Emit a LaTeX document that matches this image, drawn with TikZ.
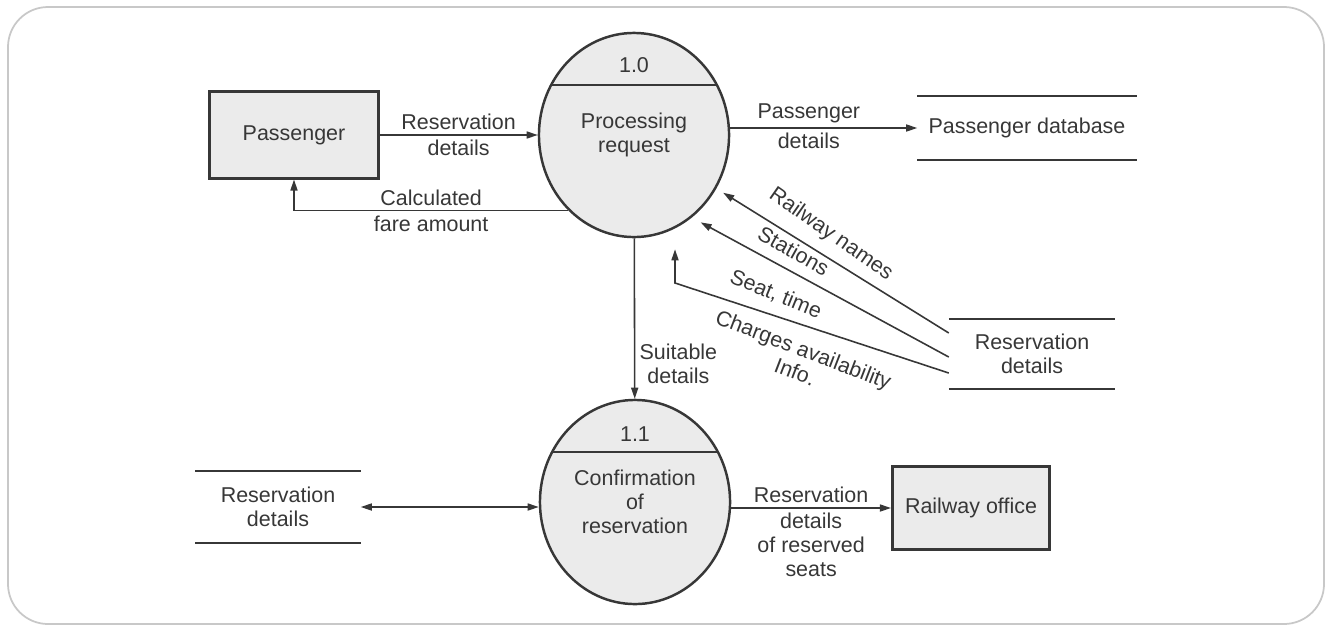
\documentclass[tikz,border=0pt]{standalone}
\usepackage{fontspec}
\setmainfont{Liberation Sans}
\usetikzlibrary{positioning}
\usetikzlibrary{calc}
\usetikzlibrary{arrows.meta}
\usetikzlibrary{shapes.geometric}
\definecolor{ink}{RGB}{55,55,55}
\definecolor{shade}{RGB}{235,235,235}
\definecolor{framegray}{RGB}{200,200,200}

\begin{document}
\begin{tikzpicture}[x=0.01cm, y=-0.01cm,
    font=\fontsize{6.1}{6.8}\selectfont, text=ink,
    entity/.style={draw=ink, line width=0.85pt, fill=shade, inner sep=0pt},
    process/.style={ellipse, draw=ink, line width=0.7pt, fill=shade, inner sep=0pt,
        minimum width=1.9cm, minimum height=2.04cm, align=center,
        path picture={\draw[ink, line width=0.4pt] ([yshift=0.5cm]path picture bounding box.west) -- ([yshift=0.5cm]path picture bounding box.east);}},
    storeline/.style={draw=ink, line width=0.45pt},
    store/.style={inner sep=0pt, align=center,
        append after command={(\tikzlastnode.north west) edge[storeline] (\tikzlastnode.north east)
                              (\tikzlastnode.south west) edge[storeline] (\tikzlastnode.south east)}},
    flow/.style={draw=ink, line width=0.45pt, -{Triangle[length=0.11cm, width=0.07cm]}},
    biflow/.style={flow, {Triangle[length=0.11cm, width=0.07cm]}-{Triangle[length=0.11cm, width=0.07cm]}},
    lbl/.style={inner sep=1.2pt, align=center},
    slant/.style={inner sep=3pt, align=center}]

    \useasboundingbox (0,0) rectangle (1328,630);
    \draw[framegray, line width=0.5pt, rounded corners=0.4cm] (8,7) rectangle (1324,624);

    \node[entity, minimum width=1.68cm, minimum height=0.86cm] (pass) at (294,135) {Passenger};
    \node[process] (p1) at (634,135) {Processing\\request};
    \node (p1num) at (634,65) {1.0};
    \node[store, minimum width=2.18cm, minimum height=0.63cm] (pdb) at (1027,128) {Passenger database};
    \node[store, minimum width=1.65cm, minimum height=0.68cm] (rdb) at (1032,354) {Reservation\\details};

    \node[process] (p2) at (635,502) {Confirmation\\of\\reservation};
    \node (p2num) at (635,434) {1.1};
    \node[store, minimum width=1.64cm, minimum height=0.71cm] (lstore) at (278,507) {Reservation\\details};
    \node[entity, minimum width=1.57cm, minimum height=0.82cm] (office) at (971,508) {Railway office};

    \draw[flow] (pass) -- node[lbl, above] {Reservation} node[lbl, below] {details} (p1);
    \draw[flow] (p1.229) -| node[lbl, pos=0.25, above] {Calculated} node[lbl, pos=0.25, below] {fare amount} (pass);
    \draw[flow] (p1.east |- pdb.west) -- node[lbl, pos=0.42, above] {Passenger} node[lbl, pos=0.42, below] {details} (pdb.west);
    \draw[flow] (p1) -- node[lbl, right, pos=0.78] {Suitable\\details} (p2);

    \draw[flow, shorten >=0.08cm] ([yshift=0.21cm]rdb.west) -- node[slant, pos=0.56, anchor=south, rotate=-35] {Railway names} (p1.-33);
    \draw[flow, shorten >=0.1cm] ([yshift=-0.03cm]rdb.west) -- node[slant, pos=0.64, anchor=south, rotate=-29] {Stations} (p1.-55);
    \coordinate (seatbend) at (675,283);
    \draw[flow, shorten >=0.11cm] ([yshift=-0.19cm]rdb.west) -- node[slant, pos=0.66, anchor=south, rotate=-22] {Seat, time}
        node[slant, pos=0.5, anchor=north, inner sep=4pt, rotate=-21] {Charges availability\\Info.} (seatbend) -- (seatbend |- p1.south);

    \draw[biflow] (lstore.east) -- (lstore.east -| p2.west);
    \draw[flow] (p2.east |- office.west) -- node[lbl, above] {Reservation} node[lbl, below] {details\\of reserved\\seats} (office.west);
\end{tikzpicture}
\end{document}
